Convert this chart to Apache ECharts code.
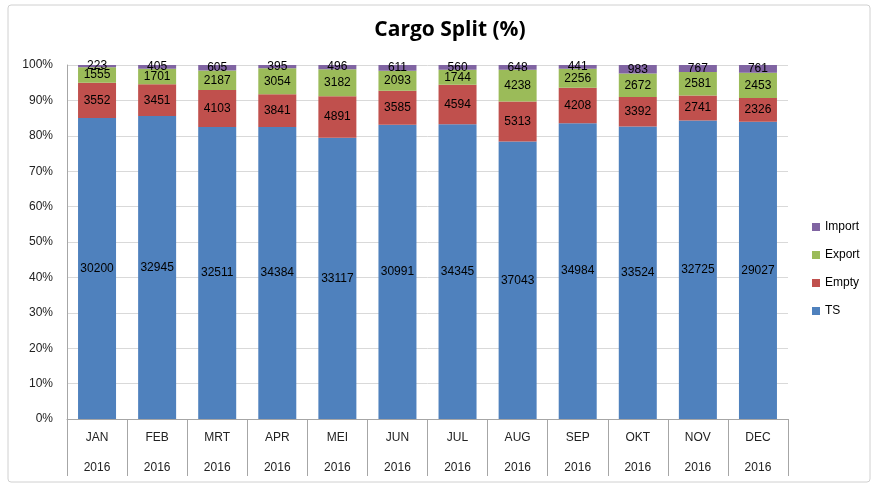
<!DOCTYPE html>
<html>
<head>
<meta charset="utf-8">
<script src="https://cdn.jsdelivr.net/npm/echarts@6/dist/echarts.min.js"></script>
<style>
  html, body { margin: 0; padding: 0; background: #fff; }
  #chart { width: 875px; height: 486px; }
</style>
</head>
<body>
<div id="chart"></div>
<script>
// values
const months = ['JAN', 'FEB', 'MRT', 'APR', 'MEI', 'JUN', 'JUL', 'AUG', 'SEP', 'OKT', 'NOV', 'DEC'];
const year = '2016';
const ts     = [30200, 32945, 32511, 34384, 33117, 30991, 34345, 37043, 34984, 33524, 32725, 29027];
const empty  = [3552, 3451, 4103, 3841, 4891, 3585, 4594, 5313, 4208, 3392, 2741, 2326];
const exportV = [1555, 1701, 2187, 3054, 3182, 2093, 1744, 4238, 2256, 2672, 2581, 2453];
const importV = [223, 405, 605, 395, 496, 611, 560, 648, 441, 983, 767, 761];

const totals = months.map((m, i) => ts[i] + empty[i] + exportV[i] + importV[i]);

const colors = { TS: '#4F81BD', Empty: '#C0504D', Export: '#9BBB59', Import: '#8064A2' };

function makeSeries(name, raw) {
  return {
    name: name,
    type: 'bar',
    stack: 'total',
    barWidth: 38,
    itemStyle: { color: colors[name] },
    label: {
      show: true,
      position: 'inside',
      color: '#000',
      fontSize: 12,
      fontFamily: 'Liberation Sans',
      formatter: p => raw[p.dataIndex]
    },
    data: raw.map((v, i) => v / totals[i] * 100)
  };
}

const chart = echarts.init(document.getElementById('chart'));
chart.setOption({
  animation: false,
  title: {
    text: 'Cargo Split (%)',
    left: 445,
    textAlign: 'center',
    top: 15,
    textStyle: { fontFamily: 'Open Sans', fontWeight: 'bold', fontSize: 21, color: '#000' }
  },
  graphic: [{
    type: 'rect',
    shape: { x: 8, y: 5, width: 862, height: 477, r: 3 },
    style: { fill: 'none', stroke: '#d0d0d0', lineWidth: 1 },
    silent: true
  }],
  legend: {
    orient: 'vertical',
    left: 807,
    top: 216,
    itemWidth: 8,
    itemHeight: 8,
    itemGap: 16,
    icon: 'rect',
    data: ['Import', 'Export', 'Empty', 'TS'],
    textStyle: { fontFamily: 'Liberation Sans', fontSize: 12, color: '#000' }
  },
  grid: { left: 67, right: 87, top: 65, bottom: 67 },
  xAxis: {
    type: 'category',
    data: months,
    axisLine: { lineStyle: { color: '#a6a6a6' } },
    axisTick: { show: true, length: 57, interval: 0, lineStyle: { color: '#a6a6a6' } },
    axisLabel: {
      interval: 0,
      margin: 4,
      lineHeight: 30,
      fontSize: 12,
      fontFamily: 'Liberation Sans',
      color: '#222',
      formatter: v => v + '\n' + year
    }
  },
  yAxis: {
    type: 'value',
    min: 0,
    max: 100,
    interval: 10,
    axisLine: { show: true, lineStyle: { color: '#a6a6a6' } },
    axisTick: { show: false },
    splitLine: { lineStyle: { color: '#d9d9d9' } },
    axisLabel: {
      margin: 14,
      fontSize: 12,
      fontFamily: 'Liberation Sans',
      color: '#222',
      formatter: '{value}%'
    }
  },
  series: [
    makeSeries('TS', ts),
    makeSeries('Empty', empty),
    makeSeries('Export', exportV),
    makeSeries('Import', importV)
  ]
});
</script>
</body>
</html>
